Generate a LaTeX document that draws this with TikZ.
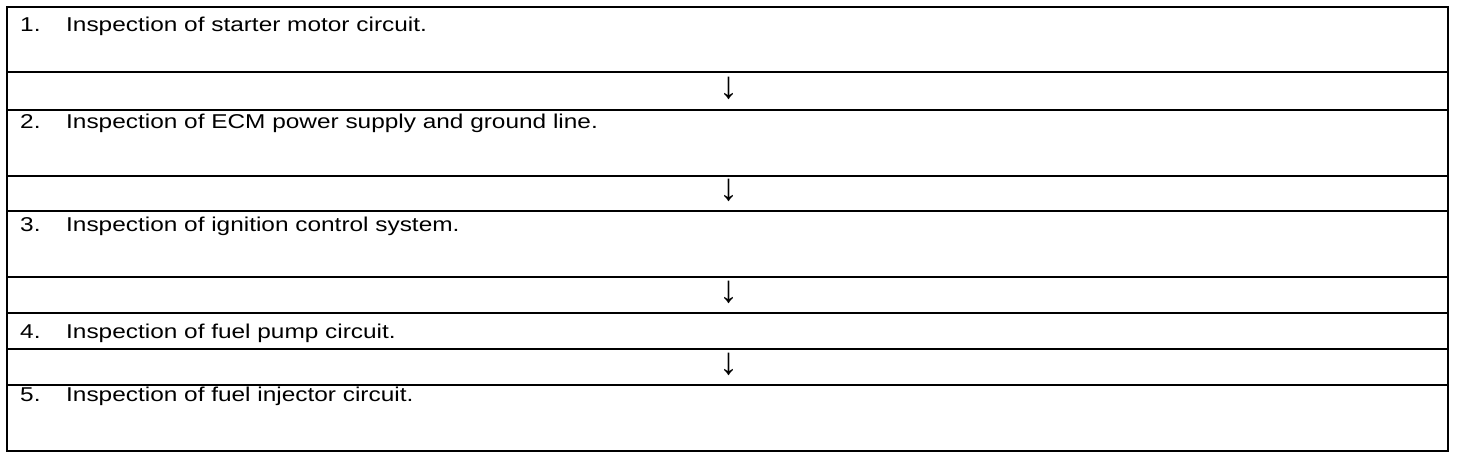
\documentclass[tikz,border=0pt]{standalone}
\usepackage{fontspec}
\setmainfont{Liberation Sans}[FakeStretch=1.22]
\newfontfamily\arrowfont{Liberation Sans}
\begin{document}
\begin{tikzpicture}[x=1pt,y=-1pt,
  rowbox/.style={draw, line width=1.5pt, minimum width=1441pt, inner sep=0pt, outer sep=0pt, anchor=north west},
  steptext/.style={anchor=base west, inner sep=0pt, font=\fontsize{20}{24}\selectfont},
  downarrow/.style={inner sep=0pt, font=\arrowfont\fontsize{38}{38}\selectfont}]
\useasboundingbox (0,0) rectangle (1472,460);
\fill[white] (0,0) rectangle (1472,460);
% rows
\node[rowbox, minimum height=65pt] (b1) at (7,7) {};
\node[rowbox, minimum height=38pt] (a1) at (7,72) {};
\node[rowbox, minimum height=66pt] (b2) at (7,110) {};
\node[rowbox, minimum height=35pt] (a2) at (7,176) {};
\node[rowbox, minimum height=66pt] (b3) at (7,211) {};
\node[rowbox, minimum height=36pt] (a3) at (7,277) {};
\node[rowbox, minimum height=36pt] (b4) at (7,313) {};
\node[rowbox, minimum height=36pt] (a4) at (7,349) {};
\node[rowbox, minimum height=66pt] (b5) at (7,385) {};
% outer frame
\draw[line width=2.8pt] (b1.north west) -- (b1.north east) -- (b5.south east) -- (b5.south west) -- cycle;
% texts
\node[steptext] (t1) at (20,32) {\makebox[46pt][l]{1.}Inspection of starter motor circuit.};
\node[steptext] (t2) at (20,128) {\makebox[46pt][l]{2.}Inspection of ECM power supply and ground line.};
\node[steptext] (t3) at (20,231) {\makebox[46pt][l]{3.}Inspection of ignition control system.};
\node[steptext] (t4) at (20,338) {\makebox[46pt][l]{4.}Inspection of fuel pump circuit.};
\node[steptext] (t5) at (20,401) {\makebox[46pt][l]{5.}Inspection of fuel injector circuit.};
% arrows
\node[downarrow] (d1) at ([xshift=1pt,yshift=3pt]a1.center) {↓};
\node[downarrow] (d2) at ([xshift=1pt,yshift=3pt]a2.center) {↓};
\node[downarrow] (d3) at ([xshift=1pt,yshift=3pt]a3.center) {↓};
\node[downarrow] (d4) at ([xshift=1pt,yshift=3pt]a4.center) {↓};
\end{tikzpicture}
\end{document}
